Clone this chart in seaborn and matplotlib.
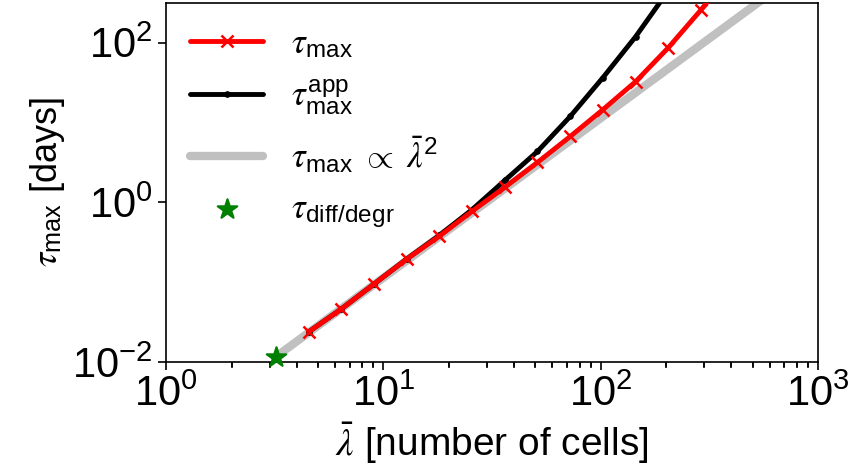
import numpy as np
import matplotlib
matplotlib.use("Agg")
import matplotlib.pyplot as plt
import matplotlib.ticker as mticker
import seaborn as sns

# lambda bar values (number of cells)
lam = [4.525, 6.4, 9.05, 12.8, 18.1, 25.6, 36.2, 51.2, 72.4, 102.4, 144.8, 204.8, 289.6, 409.6]
# tau_max [days]
tau_max = [0.0237, 0.046, 0.0944, 0.194, 0.376, 0.772, 1.54, 3.16, 6.68, 14.5, 32.5, 86.6, 258, 830]
# tau_max^app [days]
lam_app = [4.525, 6.4, 9.05, 12.8, 18.1, 25.6, 36.2, 51.2, 72.4, 102.4, 144.8, 204.8]
tau_app = [0.0237, 0.046, 0.0944, 0.195, 0.385, 0.81, 1.88, 4.34, 11.9, 36.5, 119, 450]
# tau_max ~ lambda^2 reference line (end points)
lam_sq = [3.2, 1000]
tau_sq = [0.0116, 1130]
# tau_diff/degr point
lam_dd = [3.2]
tau_dd = [0.0116]

x_major = [1, 10, 100, 1000]
x_minor = [m * d for d in (1, 10, 100) for m in range(2, 10)]
y_major = [1e-2, 1, 1e2]

sns.set_style("ticks")
plt.rcParams['font.family'] = ['Liberation Sans', 'DejaVu Sans']
plt.rcParams['mathtext.fontset'] = 'custom'
plt.rcParams['mathtext.rm'] = 'Liberation Sans'
plt.rcParams['mathtext.it'] = 'STIXGeneral:italic'
plt.rcParams['mathtext.bf'] = 'Liberation Sans:bold'
plt.rcParams['text.color'] = 'black'
plt.rcParams['axes.labelcolor'] = 'black'
plt.rcParams['xtick.color'] = 'black'
plt.rcParams['ytick.color'] = 'black'

fig, ax = plt.subplots(figsize=(8.52, 4.73), dpi=100)
fig.subplots_adjust(left=0.195, right=0.96, bottom=0.235, top=0.994)

sns.lineplot(x=lam_sq, y=tau_sq, color='#c0c0c0', lw=6, sort=False,
             label=r'$\tau_{\rm max} \ \propto \ \bar{\lambda}^2$', ax=ax, zorder=1)
sns.lineplot(x=lam_app, y=tau_app, color='black', lw=3.5, marker='o', ms=4,
             mec='black', sort=False, label=r'$\tau_{\rm max}^{\rm app}$', ax=ax, zorder=2)
sns.lineplot(x=lam, y=tau_max, color='red', lw=3.5, marker='x', ms=9, mew=1.8,
             mec='red', mfc='red', sort=False, label=r'$\tau_{\rm max}$', ax=ax, zorder=3)
sns.scatterplot(x=lam_dd, y=tau_dd, color='green', marker='*', s=220,
                edgecolor='green', linewidth=1.5, label=r'$\tau_{\rm diff/degr}$',
                ax=ax, zorder=4, clip_on=False)

ax.set_xscale('log')
ax.set_yscale('log')
ax.set_xlim(1, 1000)
ax.set_ylim(1e-2, 10**2.5)

for s in ax.spines.values():
    s.set_visible(True)
    s.set_color('black')
    s.set_linewidth(1.2)

ax.set_xlabel(r'$\bar{\lambda}$ [number of cells]', fontsize=28)
ax.set_ylabel(r'$\tau_{\rm max}$ [days]', fontsize=26)

handles, labels = ax.get_legend_handles_labels()
order = [2, 1, 0, 3]
ax.legend([handles[i] for i in order], [labels[i] for i in order],
          loc='upper left', frameon=False, fontsize=25, handlelength=2.1,
          labelspacing=0.5, borderaxespad=0.3)

ax.set_yticks(y_major)
ax.yaxis.set_minor_locator(mticker.NullLocator())
ax.set_xticks(x_major)
ax.xaxis.set_minor_locator(mticker.FixedLocator(x_minor))
ax.xaxis.set_minor_formatter(mticker.NullFormatter())
ax.tick_params(axis='both', which='major', labelsize=30, length=6, width=1.2,
               direction='out')
ax.tick_params(axis='x', which='minor', bottom=True, length=4, width=1.1,
               colors='black', direction='out')

# minor tick marks drawn along the bottom spine as well, so they always show
ax.vlines(x_minor, 0, -0.015, transform=ax.get_xaxis_transform(),
          colors='black', linewidth=1.1, clip_on=False)

plt.savefig('out.png', dpi=100)
